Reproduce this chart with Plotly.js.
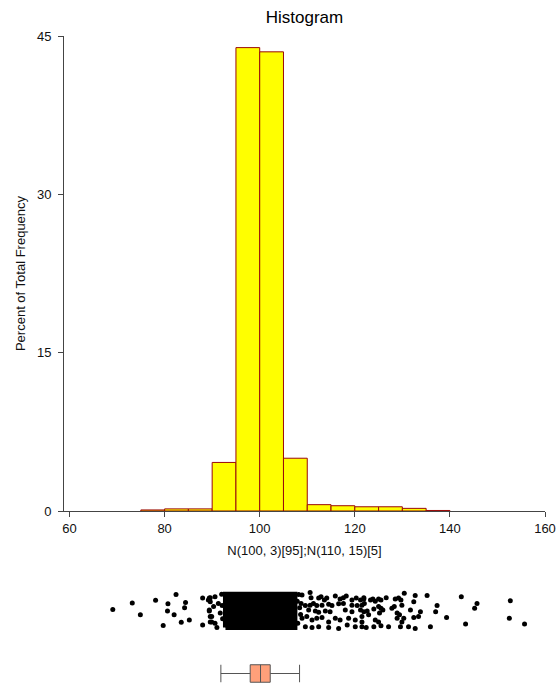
<!DOCTYPE html>
<html>
<head>
<meta charset="utf-8">
<script src="https://cdn.plot.ly/plotly-3.0.1.min.js"></script>
<style>html,body{margin:0;padding:0;background:#fff;}#chart{width:556px;height:683px;}</style>
</head>
<body>
<div id="chart"></div>
<script>
// Histogram bins (lower edges, width 5) and percent of total frequency
const binStarts = [75, 80, 85, 90, 95, 100, 105, 110, 115, 120, 125, 130, 135];
const binWidth = 5;
const percents = [0.1, 0.2, 0.2, 4.6, 43.9, 43.5, 5.0, 0.6, 0.5, 0.4, 0.4, 0.25, 0.05];

// Dot plot: individually visible observations (value, vertical jitter 0..1)
const dotValues = [
  69.1,73.2,74.9,78.1,79.7,80.7,80.6,82.0,82.4,83.5,84.4,84.2,85.2,88.0,88.0,89.4,89.6,89.4,89.6,89.9,89.2,89.6,90.6,89.4,90.3,89.9,89.6,90.6,91.0,91.3,91.7,
  108.9,110.6,110.8,112.4,112.9,113.6,114.1,115.9,116.9,117.6,118.2,119.4,120.3,121.2,121.9,
  108.7,109.6,110.6,111.3,112.0,113.1,114.5,115.2,116.6,117.6,119.4,120.5,121.5,
  110.3,111.7,112.4,113.8,114.8,118.0,119.4,121.2,
  108.9,109.9,111.0,112.0,113.1,114.5,115.9,116.9,118.7,120.1,121.5,
  109.6,111.0,112.4,114.5,116.6,118.4,120.1,
  121.9,122.0,123.3,123.8,124.3,125.0,125.5,126.6,128.5,129.2,129.7,130.4,132.4,132.7,135.2,137.3,
  121.9,122.6,122.9,124.0,125.0,125.5,125.9,125.2,127.8,128.3,128.9,129.4,129.9,131.7,132.4,133.4,133.8,137.0,
  121.5,124.3,125.0,128.9,130.3,129.9,
  121.5,122.4,124.0,125.5,127.1,129.6,131.3,132.7,135.9,
  139.3,142.4,145.7,145.2,143.3,152.7,152.5,155.7,
  108.2,108.4,108.0,108.6,107.9,92.0,92.2,92.1
];
const dotJitter = [
  0.51,0.66,0.39,0.72,0.15,0.64,0.48,0.39,0.85,0.22,0.67,0.55,0.27,0.77,0.16,0.77,0.69,0.48,0.35,0.23,0.73,0.78,0.80,0.50,0.58,0.35,0.23,0.20,0.10,0.65,0.43,
  0.84,0.90,0.78,0.77,0.80,0.73,0.77,0.82,0.75,0.78,0.82,0.73,0.77,0.73,0.78,
  0.65,0.60,0.61,0.65,0.60,0.61,0.63,0.60,0.64,0.65,0.61,0.60,0.61,
  0.50,0.48,0.45,0.48,0.46,0.50,0.46,0.50,
  0.31,0.35,0.27,0.31,0.33,0.23,0.31,0.27,0.31,0.27,0.23,
  0.12,0.10,0.12,0.10,0.08,0.16,0.12,
  0.75,0.65,0.73,0.75,0.70,0.75,0.73,0.78,0.75,0.77,0.73,0.88,0.69,0.83,0.83,0.60,
  0.46,0.48,0.39,0.52,0.58,0.54,0.50,0.43,0.54,0.58,0.43,0.39,0.61,0.50,0.33,0.35,0.46,0.46,
  0.35,0.27,0.23,0.31,0.31,0.23,
  0.12,0.10,0.12,0.14,0.12,0.12,0.12,0.08,0.12,
  0.33,0.80,0.65,0.54,0.18,0.71,0.31,0.18,
  0.85,0.55,0.20,0.40,0.70,0.86,0.30,0.60
];
// Dense core of the dot plot (overlapping points form a solid region)
const coreX = [92.8, 107.4, 107.4, 92.8, 92.8];
const coreJ = [0.10, 0.10, 0.86, 0.86, 0.10];

// Box plot summary
const boxStats = {lowerfence: 91.83, q1: 98.0, median: 100.17, q3: 102.21, upperfence: 108.38};

const xTicks = [60, 80, 100, 120, 140, 160];
const yTicks = [0, 15, 30, 45];

const binCenters = binStarts.map(b => b + binWidth / 2);

const H = 683, T = 36;
const ph = H - T;
const frac = py => (H - py) / ph;

const traces = [
  {
    type: 'bar', x: binCenters, y: percents, width: binWidth,
    marker: {color: '#FFFF00', line: {color: '#9A0A0A', width: 1}},
    xaxis: 'x', yaxis: 'y', hoverinfo: 'skip'
  },
  {
    type: 'scatter', mode: 'lines', x: coreX, y: coreJ, fill: 'toself',
    fillcolor: '#000000', line: {color: '#000000', width: 5},
    xaxis: 'x', yaxis: 'y2', hoverinfo: 'skip'
  },
  {
    type: 'scatter', mode: 'markers', x: dotValues, y: dotJitter,
    marker: {color: '#000000', size: 5},
    xaxis: 'x', yaxis: 'y2', hoverinfo: 'skip'
  },
  {
    type: 'box', orientation: 'h', y: [0],
    lowerfence: [boxStats.lowerfence], q1: [boxStats.q1], median: [boxStats.median],
    q3: [boxStats.q3], upperfence: [boxStats.upperfence],
    width: 0.92, whiskerwidth: 1, boxpoints: false,
    fillcolor: '#FFA07A', line: {color: '#555555', width: 1},
    xaxis: 'x', yaxis: 'y3', hoverinfo: 'skip'
  }
];

const font = {family: 'Liberation Sans, Arial, sans-serif', size: 13, color: '#111'};

const layout = {
  width: 556, height: 683,
  margin: {l: 64, r: 11, t: T, b: 0},
  paper_bgcolor: '#ffffff', plot_bgcolor: 'rgba(0,0,0,0)',
  showlegend: false, bargap: 0,
  font: font,
  title: {text: 'Histogram', font: {family: font.family, size: 17, color: '#000'},
          x: 0.5, xref: 'paper', y: 1 - 17 / H, yref: 'container', yanchor: 'middle'},
  xaxis: {
    range: [58.84, 160], tickvals: xTicks, ticktext: xTicks.map(String),
    showline: true, linecolor: '#444', linewidth: 1, mirror: false,
    ticks: 'outside', ticklen: 5, tickcolor: '#444', tickfont: font,
    showgrid: false, zeroline: false, anchor: 'y',
    title: {text: 'N(100, 3)[95];N(110, 15)[5]', font: font, standoff: 11}
  },
  yaxis: {
    domain: [frac(511), 1], range: [0, 45], tickvals: yTicks, ticktext: yTicks.map(String),
    showline: true, linecolor: '#444', linewidth: 1,
    ticks: 'outside', ticklen: 5, tickcolor: '#444', tickfont: font,
    ticklabelstandoff: 4,
    showgrid: false, zeroline: false, anchor: 'x',
    title: {text: 'Percent of Total Frequency', font: font, standoff: 8}
  },
  yaxis2: {domain: [frac(632), frac(588)], range: [0, 1], visible: false, anchor: 'x', fixedrange: true},
  yaxis3: {domain: [0, frac(664)], range: [-0.5, 0.5], visible: false, anchor: 'x', fixedrange: true}
};

Plotly.newPlot('chart', traces, layout, {displayModeBar: false, staticPlot: true});
</script>
</body>
</html>
